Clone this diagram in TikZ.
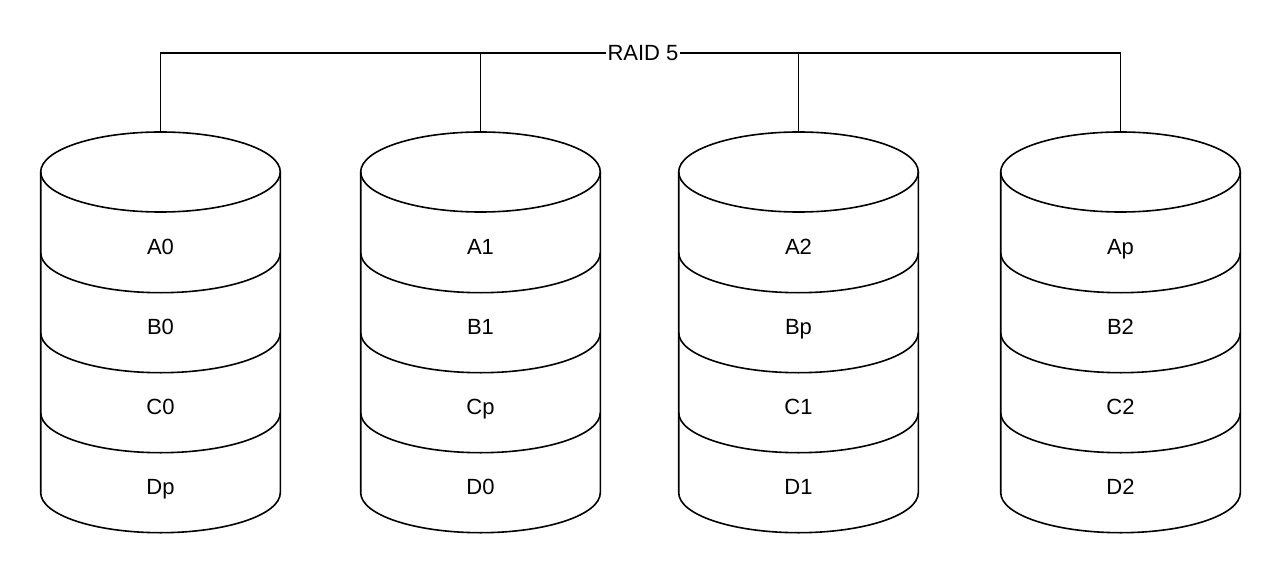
\documentclass[tikz,border=0pt]{standalone}
\usepackage{fontspec}
\setmainfont{Liberation Sans}
\begin{document}
\begin{tikzpicture}[x=1pt,y=1pt, line width=1.6pt,
  lbl/.style={font=\fontsize{22}{26}\selectfont, text height=15.8pt, text depth=0pt, inner sep=0pt}]
\useasboundingbox (0,0) rectangle (1282,574);
\foreach \i/\cx/\a/\b/\c/\d in {1/160.5/A0/B0/C0/Dp, 2/480.5/A1/B1/Cp/D0, 3/798.5/A2/Bp/C1/D1, 4/1120.5/Ap/B2/C2/D2} {
  \draw (\cx,402) ellipse [x radius=119.8, y radius=40];
  \draw (\cx-119.8,402) -- (\cx-119.8,81.3) arc[start angle=180,end angle=360,x radius=119.8,y radius=40] -- (\cx+119.8,402);
  \foreach \yc in {321.3,241.3,161.3}
    \draw (\cx-119.8,\yc) arc[start angle=180,end angle=360,x radius=119.8,y radius=40];
  \coordinate (t\i) at (\cx,442);
  \node[lbl] (d\i-1) at (\cx,327) {\a};
  \node[lbl] (d\i-2) at (\cx,247) {\b};
  \node[lbl] (d\i-3) at (\cx,167) {\c};
  \node[lbl] (d\i-4) at (\cx,87) {\d};
}
\node[lbl, fill=white, inner sep=1pt] (raid) at (643,521) {RAID 5};
\draw (t1) |- (raid.west);
\draw (t4) |- (raid.east);
\draw (t2) -- (t2 |- raid);
\draw (t3) -- (t3 |- raid);
\end{tikzpicture}
\end{document}
